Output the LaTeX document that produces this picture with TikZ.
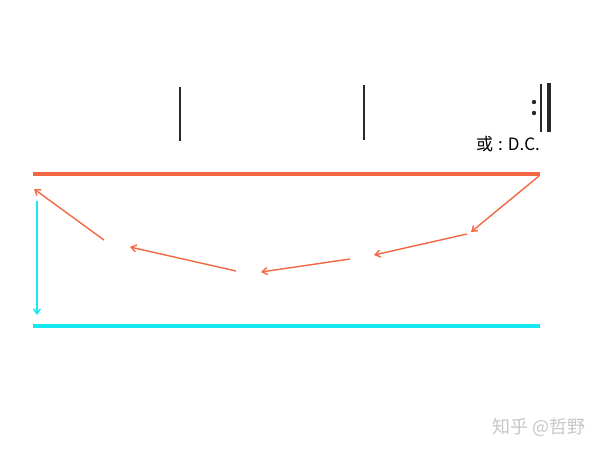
\documentclass[tikz,border=0pt]{standalone}
\usepackage{fontspec}
\newfontfamily\cjk{Noto Sans CJK SC}
\usetikzlibrary{arrows.meta}
\definecolor{orng}{RGB}{243,104,66}
\definecolor{cyn}{RGB}{20,232,240}
\definecolor{barc}{RGB}{40,40,40}
\tikzset{
  staff/.style={line width=3.5pt},
  flow/.style={line width=1.4pt,-{Straight Barb[length=5pt,width=7pt]}},
  barline/.style={barc,line width=1.8pt},
  lbl/.style={inner sep=0pt,font=\cjk\fontsize{17pt}{17pt}\selectfont}
}
\begin{document}
\begin{tikzpicture}[x=1pt,y=-1pt]
\useasboundingbox (0,0) rectangle (600,450);
\fill[white] (0,0) rectangle (600,450);
% bar lines
\coordinate (b1t) at (180,87); \coordinate (b1b) at (180,141);
\coordinate (b2t) at (364,85); \coordinate (b2b) at (364,140);
\draw[barline] (b1t) -- (b1b);
\draw[barline] (b2t) -- (b2b);
% repeat sign
\coordinate (r1t) at (541,84); \coordinate (r1b) at (541,132);
\coordinate (r2t) at (549,83); \coordinate (r2b) at (549,132);
\draw[barc,line width=1.3pt] (r1t) -- (r1b);
\draw[barc,line width=4pt] (r2t) -- (r2b);
\fill[barc] (534,102) circle (2.2);
\fill[barc] (534,113) circle (2.2);
\node[lbl,anchor=base west] (dc) at (476,150) {或\hspace{5pt}:\hspace{5pt}D.C.};
% staff lines
\coordinate (oL) at (33,174); \coordinate (oR) at (540,174);
\coordinate (cL) at (33,326); \coordinate (cR) at (540,326);
\draw[orng,staff] (oL) -- (oR);
\draw[cyn,staff] (cL) -- (cR);
% orange arrows
\coordinate (a0) at (539,176);
\coordinate (a1) at (471,232);
\coordinate (a2s) at (467,234); \coordinate (a2e) at (374,255);
\coordinate (a3s) at (350,259); \coordinate (a3e) at (261,272);
\coordinate (a4s) at (236,271); \coordinate (a4e) at (130,247);
\coordinate (a5s) at (104,240); \coordinate (a5e) at (34,189);
\draw[orng,flow] (a0) -- (a1);
\draw[orng,flow] (a2s) -- (a2e);
\draw[orng,flow] (a3s) -- (a3e);
\draw[orng,flow] (a4s) -- (a4e);
\draw[orng,flow] (a5s) -- (a5e);
% cyan arrow
\coordinate (c1) at (37,201); \coordinate (c2) at (37,315);
\draw[cyn,flow] (c1) -- (c2);
% watermark
\node[inner sep=0pt,text=black!22,font=\cjk\fontsize{18pt}{18pt}\selectfont] (wm) at (539,427) {知乎 @哲野};
\end{tikzpicture}
\end{document}
